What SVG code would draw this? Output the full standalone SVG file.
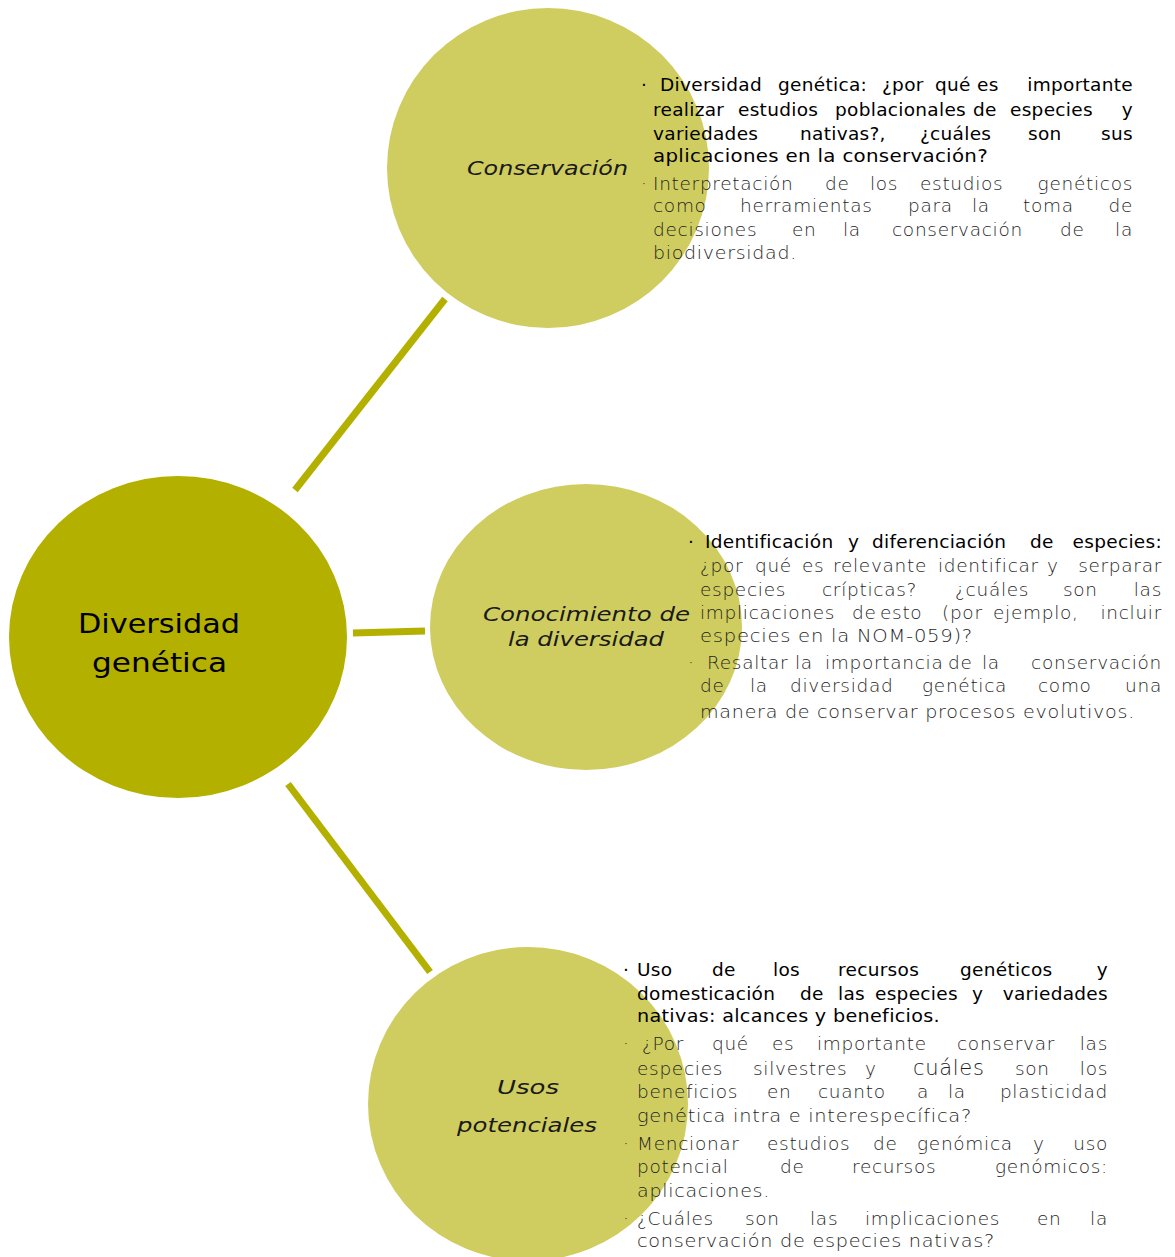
<svg xmlns="http://www.w3.org/2000/svg" width="1175" height="1257" viewBox="0 0 1175 1257">
<style>
.main{fill:#B3B000}
.sub{fill:#D0CD60}
.conn line{stroke:#B3B000;stroke-width:7;stroke-linecap:butt}
text{font-family:"DejaVu Sans","Liberation Sans",sans-serif}
.b{font-size:18.5px;font-weight:400;fill:#000;letter-spacing:0.3px}
.g{font-size:18.5px;font-weight:300;fill:#1e1e1e;letter-spacing:0.7px}
.e{text-anchor:end}
.lbl{font-size:20px;font-style:italic;fill:#1a1a1a}
.root{font-size:27px;fill:#000}
</style>
<rect width="1175" height="1257" fill="#fff"/>
<g class="conn" id="connectors">
<line x1="295" y1="490" x2="445" y2="299"/>
<line x1="353" y1="633" x2="425" y2="631"/>
<line x1="288" y1="784" x2="430" y2="972"/>
</g>
<g id="root">
<ellipse class="main" cx="178" cy="637" rx="169" ry="161"/>
<text class="root" x="78" y="633" textLength="162" lengthAdjust="spacingAndGlyphs">Diversidad</text>
<text class="root" x="92" y="672" textLength="135" lengthAdjust="spacingAndGlyphs">genética</text>
</g>
<g id="conservacion">
<ellipse class="sub" cx="548" cy="168" rx="161" ry="160"/>
<text class="lbl" x="467" y="175" textLength="161" lengthAdjust="spacingAndGlyphs">Conservación</text>
<text class="b" y="91"><tspan x="641">·</tspan><tspan x="660">Diversidad</tspan><tspan x="778">genética:</tspan><tspan x="882">¿por</tspan><tspan x="935">qué</tspan><tspan x="977">es</tspan><tspan class="e" x="1133">importante</tspan></text>
<text class="b" y="116"><tspan x="653">realizar</tspan><tspan x="738">estudios</tspan><tspan x="835">poblacionales</tspan><tspan x="973">de</tspan><tspan x="1010">especies</tspan><tspan class="e" x="1133">y</tspan></text>
<text class="b" y="140"><tspan x="653">variedades</tspan><tspan x="800">nativas?,</tspan><tspan x="920">¿cuáles</tspan><tspan x="1028">son</tspan><tspan class="e" x="1133">sus</tspan></text>
<text class="b" x="653" y="162" textLength="335" lengthAdjust="spacingAndGlyphs">aplicaciones en la conservación?</text>
<text class="g" y="190"><tspan x="641">·</tspan><tspan x="653">Interpretación</tspan><tspan x="825">de</tspan><tspan x="870">los</tspan><tspan x="920">estudios</tspan><tspan class="e" x="1133">genéticos</tspan></text>
<text class="g" y="212"><tspan x="653">como</tspan><tspan x="740">herramientas</tspan><tspan x="908">para</tspan><tspan x="972">la</tspan><tspan x="1023">toma</tspan><tspan class="e" x="1133">de</tspan></text>
<text class="g" y="236"><tspan x="653">decisiones</tspan><tspan x="792">en</tspan><tspan x="843">la</tspan><tspan x="892">conservación</tspan><tspan x="1060">de</tspan><tspan class="e" x="1133">la</tspan></text>
<text class="g" x="653" y="259" textLength="144" lengthAdjust="spacingAndGlyphs">biodiversidad.</text>
</g>
<g id="conocimiento">
<ellipse class="sub" cx="586" cy="627" rx="156" ry="143"/>
<text class="lbl" x="483" y="621" textLength="207" lengthAdjust="spacingAndGlyphs">Conocimiento de</text>
<text class="lbl" x="508" y="646" textLength="156" lengthAdjust="spacingAndGlyphs">la diversidad</text>
<text class="b" y="548"><tspan x="688">·</tspan><tspan x="705">Identificación</tspan><tspan x="848">y</tspan><tspan x="872">diferenciación</tspan><tspan x="1030">de</tspan><tspan class="e" x="1162">especies:</tspan></text>
<text class="g" y="572"><tspan x="700">¿por</tspan><tspan x="755">qué</tspan><tspan x="802">es</tspan><tspan x="833">relevante</tspan><tspan x="938">identificar</tspan><tspan x="1047">y</tspan><tspan class="e" x="1162">serparar</tspan></text>
<text class="g" y="596"><tspan x="700">especies</tspan><tspan x="822">crípticas?</tspan><tspan x="955">¿cuáles</tspan><tspan x="1063">son</tspan><tspan class="e" x="1162">las</tspan></text>
<text class="g" y="619"><tspan x="700">implicaciones</tspan><tspan x="852">de</tspan><tspan x="880">esto</tspan><tspan x="942">(por</tspan><tspan x="993">ejemplo,</tspan><tspan class="e" x="1162">incluir</tspan></text>
<text class="g" x="700" y="642" textLength="273" lengthAdjust="spacingAndGlyphs">especies en la NOM-059)?</text>
<text class="g" y="669"><tspan x="688">·</tspan><tspan x="707">Resaltar</tspan><tspan x="795">la</tspan><tspan x="825">importancia</tspan><tspan x="948">de</tspan><tspan x="982">la</tspan><tspan class="e" x="1162">conservación</tspan></text>
<text class="g" y="692"><tspan x="700">de</tspan><tspan x="750">la</tspan><tspan x="790">diversidad</tspan><tspan x="922">genética</tspan><tspan x="1038">como</tspan><tspan class="e" x="1162">una</tspan></text>
<text class="g" x="700" y="718" textLength="435" lengthAdjust="spacingAndGlyphs">manera de conservar procesos evolutivos.</text>
</g>
<g id="usos">
<ellipse class="sub" cx="528" cy="1104" rx="160" ry="157"/>
<text class="lbl" x="497" y="1094" textLength="62" lengthAdjust="spacingAndGlyphs">Usos</text>
<text class="lbl" x="457" y="1132" textLength="140" lengthAdjust="spacingAndGlyphs">potenciales</text>
<text class="b" y="976"><tspan x="623">·</tspan><tspan x="637">Uso</tspan><tspan x="712">de</tspan><tspan x="773">los</tspan><tspan x="838">recursos</tspan><tspan x="960">genéticos</tspan><tspan class="e" x="1108">y</tspan></text>
<text class="b" y="1000"><tspan x="637">domesticación</tspan><tspan x="800">de</tspan><tspan x="838">las</tspan><tspan x="875">especies</tspan><tspan x="972">y</tspan><tspan class="e" x="1108">variedades</tspan></text>
<text class="b" x="637" y="1022" textLength="303" lengthAdjust="spacingAndGlyphs">nativas: alcances y beneficios.</text>
<text class="g" y="1050"><tspan x="623">·</tspan><tspan x="642">¿Por</tspan><tspan x="712">qué</tspan><tspan x="772">es</tspan><tspan x="817">importante</tspan><tspan x="957">conservar</tspan><tspan class="e" x="1108">las</tspan></text>
<text class="g" y="1075"><tspan x="637">especies</tspan><tspan x="753">silvestres</tspan><tspan x="865">y</tspan><tspan x="913" style="font-size:21px">cuáles</tspan><tspan x="1015">son</tspan><tspan class="e" x="1108">los</tspan></text>
<text class="g" y="1098"><tspan x="637">beneficios</tspan><tspan x="767">en</tspan><tspan x="818">cuanto</tspan><tspan x="917">a</tspan><tspan x="948">la</tspan><tspan class="e" x="1108">plasticidad</tspan></text>
<text class="g" x="637" y="1122" textLength="335" lengthAdjust="spacingAndGlyphs">genética intra e interespecífica?</text>
<text class="g" y="1150"><tspan x="623">·</tspan><tspan x="637">Mencionar</tspan><tspan x="767">estudios</tspan><tspan x="873">de</tspan><tspan x="917">genómica</tspan><tspan x="1033">y</tspan><tspan class="e" x="1108">uso</tspan></text>
<text class="g" y="1173"><tspan x="637">potencial</tspan><tspan x="780">de</tspan><tspan x="852">recursos</tspan><tspan class="e" x="1108">genómicos:</tspan></text>
<text class="g" x="637" y="1197" textLength="133" lengthAdjust="spacingAndGlyphs">aplicaciones.</text>
<text class="g" y="1225"><tspan x="623">·</tspan><tspan x="637">¿Cuáles</tspan><tspan x="745">son</tspan><tspan x="810">las</tspan><tspan x="865">implicaciones</tspan><tspan x="1037">en</tspan><tspan class="e" x="1108">la</tspan></text>
<text class="g" x="637" y="1247" textLength="358" lengthAdjust="spacingAndGlyphs">conservación de especies nativas?</text>
</g>
</svg>
